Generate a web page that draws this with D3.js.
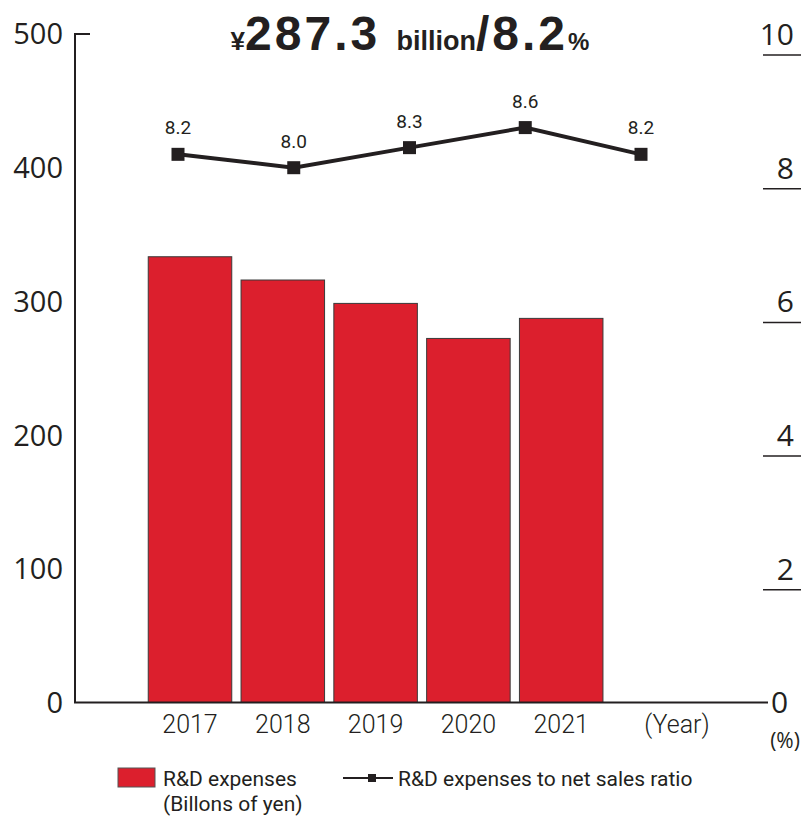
<!DOCTYPE html>
<html>
<head>
<meta charset="utf-8">
<title>R&amp;D expenses</title>
<script src="https://cdn.jsdelivr.net/npm/d3@7"></script>
<style>
  body { margin: 0; background: #fff; }
  svg { display: block; }
</style>
</head>
<body>
<div id="chart"></div>
<script>
  // data
  var years = ['2017', '2018', '2019', '2020', '2021'];
  var rdExpenses = [333.4, 316.0, 298.5, 272.3, 287.3];   // billions of yen
  var salesRatio = [8.2, 8.0, 8.3, 8.6, 8.2];              // %
  var leftTicks = [0, 100, 200, 300, 400, 500];
  var rightTicks = [0, 2, 4, 6, 8, 10];

  var W = 801, H = 819;
  var ink = '#231f20';
  var red = '#dc1f2d';

  var svg = d3.select('#chart')
    .append('svg')
    .attr('width', W)
    .attr('height', H);

  var yLeft = d3.scaleLinear().domain([0, 500]).range([702.5, 34]);
  var yRight = d3.scaleLinear().domain([0, 10]).range([702.5, 34]);

  // bars and line points don't share positions in the original
  var xBar = d3.scaleBand().domain(years).range([143.6, 607.6])
    .paddingInner(0.1).paddingOuter(0.05);
  var xLine = d3.scalePoint().domain(years).range([178, 641]);

  var axisFont = '"Open Sans", sans-serif';
  var labelFont = 'Roboto, sans-serif';

  // title
  var title = svg.append('text')
    .attr('x', 410)
    .attr('y', 50)
    .attr('text-anchor', 'middle')
    .attr('font-family', '"Liberation Sans", Arial, sans-serif')
    .attr('font-weight', 700)
    .attr('fill', ink);
  title.append('tspan').attr('font-size', 26).text('¥');
  title.append('tspan').attr('font-size', 48).attr('letter-spacing', 3).text('287.3 ');
  title.append('tspan').attr('font-size', 27).text('billion');
  title.append('tspan').attr('font-size', 48).attr('letter-spacing', 3).text('/8.2');
  title.append('tspan').attr('font-size', 24).text('%');

  // bars
  var data = years.map(function(y, i) {
    return { year: y, value: rdExpenses[i], ratio: salesRatio[i] };
  });

  svg.selectAll('rect.bar')
    .data(data)
    .enter()
    .append('rect')
    .attr('class', 'bar')
    .attr('x', function(d) { return xBar(d.year); })
    .attr('y', function(d) { return yLeft(d.value); })
    .attr('width', xBar.bandwidth())
    .attr('height', function(d) { return yLeft(0) - yLeft(d.value); })
    .attr('fill', red)
    .attr('stroke', '#3a3a3a')
    .attr('stroke-width', 1);

  // left axis: vertical line with a small tick at the top, no other ticks
  svg.append('path')
    .attr('d', 'M90,' + yLeft(500) + 'H75V' + yLeft(0) + 'H768')
    .attr('fill', 'none')
    .attr('stroke', ink)
    .attr('stroke-width', 2);

  svg.selectAll('text.ly')
    .data(leftTicks)
    .enter()
    .append('text')
    .attr('class', 'ly')
    .attr('x', 63)
    .attr('y', function(d) { return yLeft(d); })
    .attr('dy', '0.36em')
    .attr('text-anchor', 'end')
    .attr('font-family', axisFont)
    .attr('font-size', 29)
    .attr('fill', ink)
    .text(function(d) { return d; });

  // right axis: labels with an underline below (none on 0)
  svg.selectAll('text.ry')
    .data(rightTicks)
    .enter()
    .append('text')
    .attr('class', 'ry')
    .attr('x', function(d) { return d === 0 ? 771 : 794; })
    .attr('y', function(d) { return yRight(d); })
    .attr('dy', '0.36em')
    .attr('text-anchor', function(d) { return d === 0 ? 'start' : 'end'; })
    .attr('font-family', axisFont)
    .attr('font-size', 30)
    .attr('fill', ink)
    .text(function(d) { return d; });

  svg.selectAll('line.ru')
    .data(rightTicks.filter(function(d) { return d > 0; }))
    .enter()
    .append('line')
    .attr('class', 'ru')
    .attr('x1', 763)
    .attr('x2', 801)
    .attr('y1', function(d) { return yRight(d) + 21; })
    .attr('y2', function(d) { return yRight(d) + 21; })
    .attr('stroke', ink)
    .attr('stroke-width', 1.5);

  svg.append('text')
    .attr('x', 785)
    .attr('y', 741)
    .attr('dy', '0.35em')
    .attr('text-anchor', 'middle')
    .attr('font-family', axisFont)
    .attr('font-size', 21)
    .attr('fill', ink)
    .text('(%)');

  // year labels
  svg.selectAll('text.yr')
    .data(years)
    .enter()
    .append('text')
    .attr('class', 'yr')
    .attr('x', function(d) { return xBar(d) + xBar.bandwidth() / 2; })
    .attr('y', 733)
    .attr('text-anchor', 'middle')
    .attr('font-family', labelFont)
    .attr('font-weight', 300)
    .attr('font-size', 25)
    .attr('fill', ink)
    .text(function(d) { return d; });

  svg.append('text')
    .attr('x', 677)
    .attr('y', 733)
    .attr('text-anchor', 'middle')
    .attr('font-family', labelFont)
    .attr('font-weight', 300)
    .attr('font-size', 25)
    .attr('fill', ink)
    .text('(Year)');

  // ratio line
  var line = d3.line()
    .x(function(d) { return xLine(d.year); })
    .y(function(d) { return yRight(d.ratio); });

  svg.append('path')
    .datum(data)
    .attr('d', line)
    .attr('fill', 'none')
    .attr('stroke', ink)
    .attr('stroke-width', 4);

  var m = 13;
  svg.selectAll('rect.mk')
    .data(data)
    .enter()
    .append('rect')
    .attr('class', 'mk')
    .attr('x', function(d) { return xLine(d.year) - m / 2; })
    .attr('y', function(d) { return yRight(d.ratio) - m / 2; })
    .attr('width', m)
    .attr('height', m)
    .attr('fill', ink);

  svg.selectAll('text.rv')
    .data(data)
    .enter()
    .append('text')
    .attr('class', 'rv')
    .attr('x', function(d) { return xLine(d.year); })
    .attr('y', function(d) { return yRight(d.ratio) - 20; })
    .attr('text-anchor', 'middle')
    .attr('font-family', labelFont)
    .attr('font-size', 19)
    .attr('fill', ink)
    .text(function(d) { return d.ratio.toFixed(1); });

  // legend
  var lg = svg.append('g').attr('font-family', labelFont).attr('font-size', 21).attr('fill', ink);
  lg.append('rect')
    .attr('x', 118).attr('y', 768)
    .attr('width', 37).attr('height', 19)
    .attr('fill', red).attr('stroke', '#555').attr('stroke-width', 1);
  lg.append('text').attr('x', 163).attr('y', 786).text('R&D expenses');
  lg.append('text').attr('x', 163).attr('y', 811).text('(Billons of yen)');

  lg.append('line')
    .attr('x1', 343).attr('x2', 393)
    .attr('y1', 778).attr('y2', 778)
    .attr('stroke', ink).attr('stroke-width', 2);
  lg.append('rect')
    .attr('x', 368).attr('y', 774)
    .attr('width', 8).attr('height', 8)
    .attr('fill', ink);
  lg.append('text').attr('x', 398).attr('y', 786).text('R&D expenses to net sales ratio');
</script>
</body>
</html>
